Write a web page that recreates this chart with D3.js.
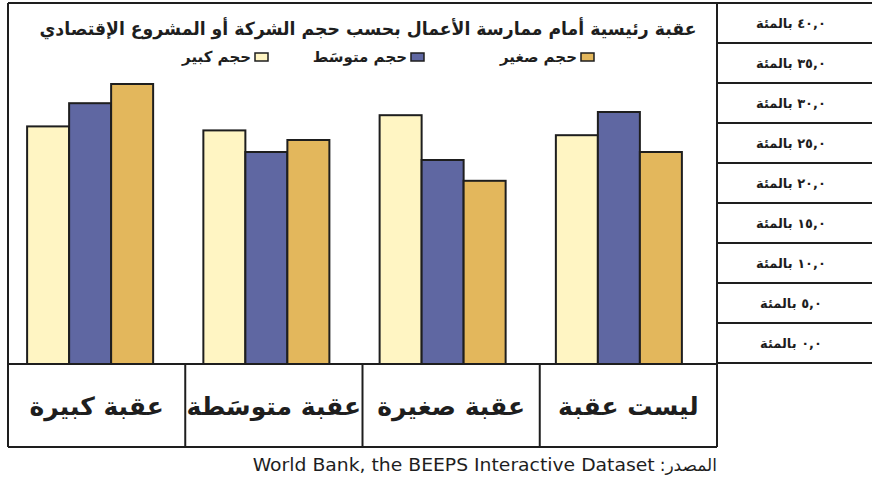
<!DOCTYPE html>
<html lang="ar">
<head>
<meta charset="utf-8">
<script src="https://cdn.jsdelivr.net/npm/d3@7"></script>
<style>
  html, body { margin: 0; padding: 0; background: #ffffff; }
  svg { display: block; }
  text { font-family: "DejaVu Sans", "Noto Sans", sans-serif; }
</style>
</head>
<body>
<svg id="chart" width="872" height="484"></svg>
<script>
// Obstacle categories, left to right as drawn
const categories = ["عقبة كبيرة", "عقبة متوسَطة", "عقبة صغيرة", "ليست عقبة"];
// Firm sizes, left to right inside each group
const sizes = ["حجم كبير", "حجم متوسَط", "حجم صغير"];
// Percent of firms per size, one value per category (same order as categories)
const largeFirms  = [29.7, 29.2, 31.1, 28.6];
const mediumFirms = [32.6, 26.5, 25.5, 31.5];
const smallFirms  = [35.0, 28.0, 22.9, 26.5];
// Axis labels, top to bottom
const tickValues = [40, 35, 30, 25, 20, 15, 10, 5, 0];
const tickLabels = ["٤٠,٠ بالمئة", "٣٥,٠ بالمئة", "٣٠,٠ بالمئة", "٢٥,٠ بالمئة", "٢٠,٠ بالمئة",
                    "١٥,٠ بالمئة", "١٠,٠ بالمئة", "٥,٠ بالمئة", "٠,٠ بالمئة"];
const titleText = "عقبة رئيسية أمام ممارسة الأعمال بحسب حجم الشركة أو المشروع الإقتصادي";
const sourceLabel = "المصدر:";
const sourceText = "World Bank, the BEEPS Interactive Dataset";

const seriesValues = [largeFirms, mediumFirms, smallFirms];
const colors = ["#fff5c3", "#5f67a2", "#e3b75c"];
const ink = "#1e1e1e";

const svg = d3.select("#chart");

// Frame geometry
const frameLeft = 8, plotRight = 717, frameTop = 3, baseY = 364, tableBottom = 447, frameRight = 872;

const y = d3.scaleLinear().domain([0, 40]).range([baseY, 44]);

const x0 = d3.scaleBand().domain(categories).range([2, 707])
  .paddingInner(0.285).paddingOuter(0.1425);
const x1 = d3.scaleBand().domain(sizes).range([0, x0.bandwidth()]);

// Bars
const groups = svg.append("g").selectAll("g")
  .data(categories)
  .join("g")
  .attr("transform", d => `translate(${x0(d)},0)`);

groups.selectAll("rect")
  .data((c, ci) => sizes.map((s, si) => ({ size: s, si, value: seriesValues[si][ci] })))
  .join("rect")
  .attr("x", d => x1(d.size))
  .attr("y", d => y(d.value))
  .attr("width", x1.bandwidth())
  .attr("height", d => baseY - y(d.value))
  .attr("fill", d => colors[d.si])
  .attr("stroke", ink)
  .attr("stroke-width", 2);

// Frame lines
const lines = svg.append("g").attr("stroke", ink).attr("stroke-width", 2).attr("fill", "none");
lines.append("line").attr("x1", frameLeft).attr("x2", frameRight).attr("y1", frameTop).attr("y2", frameTop);
lines.append("line").attr("x1", frameLeft).attr("x2", frameLeft).attr("y1", frameTop).attr("y2", tableBottom);
lines.append("line").attr("x1", plotRight).attr("x2", plotRight).attr("y1", frameTop).attr("y2", tableBottom);
lines.append("line").attr("x1", frameLeft).attr("x2", plotRight).attr("y1", baseY).attr("y2", baseY);
lines.append("line").attr("x1", frameLeft).attr("x2", plotRight).attr("y1", tableBottom).attr("y2", tableBottom);

// Category table cells
const cells = d3.scaleBand().domain(categories).range([frameLeft, plotRight]);
categories.slice(1).forEach(c => {
  lines.append("line").attr("x1", cells(c)).attr("x2", cells(c)).attr("y1", baseY).attr("y2", tableBottom);
});
svg.append("g").selectAll("text")
  .data(categories)
  .join("text")
  .attr("x", d => cells(d) + cells.bandwidth() / 2)
  .attr("y", (baseY + tableBottom) / 2 + 1)
  .attr("dy", "0.35em")
  .attr("text-anchor", "middle")
  .attr("direction", "rtl")
  .attr("font-size", 25)
  .attr("font-weight", "bold")
  .attr("fill", ink)
  .text(d => d);

// Value label table on the right: one row per tick, each row ends at its tick
const rowH = y(0) - y(5);
tickValues.forEach(v => {
  lines.append("line").attr("x1", plotRight).attr("x2", frameRight)
    .attr("y1", y(v) - 1).attr("y2", y(v) - 1);
});
svg.append("g").selectAll("text")
  .data(tickValues)
  .join("text")
  .attr("x", 791)
  .attr("y", d => y(d) - 1 - rowH / 2)
  .attr("dy", "0.35em")
  .attr("text-anchor", "middle")
  .attr("direction", "rtl")
  .attr("font-size", 13)
  .attr("font-weight", "bold")
  .attr("fill", ink)
  .text((d, i) => tickLabels[i]);

// Title
svg.append("text")
  .attr("x", 368).attr("y", 29)
  .attr("dy", "0.35em")
  .attr("text-anchor", "middle")
  .attr("direction", "rtl")
  .attr("font-size", 18)
  .attr("font-weight", "bold")
  .attr("textLength", 657)
  .attr("lengthAdjust", "spacingAndGlyphs")
  .attr("fill", ink)
  .text(titleText);

// Legend, right to left: small, medium, large
const legendRight = [594, 424, 268];
[2, 1, 0].forEach((si, k) => {
  const rx = legendRight[k];
  svg.append("rect")
    .attr("x", rx - 13).attr("y", 53).attr("width", 13).attr("height", 8)
    .attr("fill", colors[si]).attr("stroke", ink).attr("stroke-width", 1.5);
  svg.append("text")
    .attr("x", rx - 17).attr("y", 57)
    .attr("dy", "0.35em")
    .attr("text-anchor", "end")
    .attr("font-size", 15)
    .attr("font-weight", "bold")
    .attr("fill", ink)
    .text(sizes[si]);
});

// Source line: Arabic label on the right, English reference to its left
const src1 = svg.append("text")
  .attr("x", plotRight).attr("y", 465)
  .attr("dy", "0.35em")
  .attr("direction", "rtl")
  .attr("text-anchor", "start")
  .attr("font-size", 17)
  .attr("fill", ink)
  .text(sourceLabel);
const w1 = src1.node().getComputedTextLength();
svg.append("text")
  .attr("x", plotRight - w1 - 5).attr("y", 465)
  .attr("dy", "0.35em")
  .attr("text-anchor", "end")
  .attr("font-size", 18)
  .attr("font-family", "'Open Sans', sans-serif")
  .attr("textLength", 402)
  .attr("lengthAdjust", "spacingAndGlyphs")
  .attr("fill", ink)
  .text(sourceText);
</script>
</body>
</html>
